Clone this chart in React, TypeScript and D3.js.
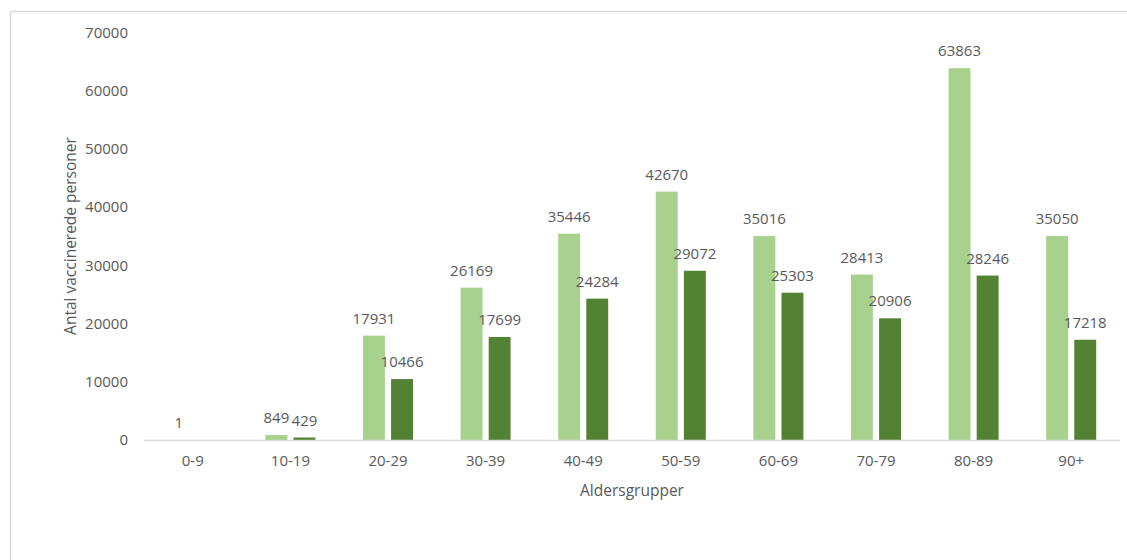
import React, { useEffect, useRef } from 'react';
import * as d3 from 'd3';

const ageGroups = ['0-9', '10-19', '20-29', '30-39', '40-49', '50-59', '60-69', '70-79', '80-89', '90+'];
const firstDose = [1, 849, 17931, 26169, 35446, 42670, 35016, 28413, 63863, 35050];
const secondDose = [0, 429, 10466, 17699, 24284, 29072, 25303, 20906, 28246, 17218];
const yTicks = [0, 10000, 20000, 30000, 40000, 50000, 60000, 70000];

const seriesNames = ['first', 'second'];
const colors: Record<string, string> = { first: '#A9D18E', second: '#548235' };

const App = () => {
  const ref = useRef<SVGSVGElement>(null);

  useEffect(() => {
    const svg = d3.select(ref.current);
    svg.selectAll('*').remove();

    const font = "'Open Sans', sans-serif";
    const textColor = '#595959';

    // outer chart border (only top and left are visible)
    svg
      .append('path')
      .attr('d', 'M10.5,600 L10.5,11.5 L1140,11.5')
      .attr('fill', 'none')
      .attr('stroke', '#D9D9D9')
      .attr('stroke-width', 1.5);

    const left = 144;
    const right = 1120;
    const y0 = 440;

    const x = d3.scaleBand().domain(ageGroups).range([left, right]);
    const x1 = d3.scaleBand().domain(seriesNames).range([-25, 25]).paddingInner(0.22);
    const y = d3.scaleLinear().domain([0, 70000]).range([y0, 32.5]);

    // y tick labels
    svg
      .selectAll('.ytick')
      .data(yTicks)
      .enter()
      .append('text')
      .attr('x', 128)
      .attr('y', d => y(d))
      .attr('dy', '0.35em')
      .attr('text-anchor', 'end')
      .style('font-family', font)
      .style('font-size', '15px')
      .style('fill', textColor)
      .text(d => d);

    const rows = ageGroups.map((g, i) => ({
      group: g,
      values: [
        { key: 'first', value: firstDose[i] },
        { key: 'second', value: secondDose[i] },
      ],
    }));

    const groups = svg
      .selectAll('.grp')
      .data(rows)
      .enter()
      .append('g')
      .attr('transform', d => `translate(${x(d.group)! + x.bandwidth() / 2},0)`);

    groups
      .selectAll('rect')
      .data(d => d.values)
      .enter()
      .append('rect')
      .attr('x', d => x1(d.key)!)
      .attr('y', d => y(d.value))
      .attr('width', x1.bandwidth())
      .attr('height', d => y0 - y(d.value))
      .attr('fill', d => colors[d.key]);

    // value labels (zero values have no label)
    groups
      .selectAll('.lbl')
      .data(d => d.values.filter(v => v.value > 0))
      .enter()
      .append('text')
      .attr('x', d => x1(d.key)! + x1.bandwidth() / 2)
      .attr('y', d => y(d.value) - 12)
      .attr('text-anchor', 'middle')
      .style('font-family', font)
      .style('font-size', '15px')
      .style('fill', textColor)
      .text(d => d.value);

    // x axis line
    svg
      .append('line')
      .attr('x1', left)
      .attr('x2', right)
      .attr('y1', y0 + 0.5)
      .attr('y2', y0 + 0.5)
      .attr('stroke', '#D9D9D9')
      .attr('stroke-width', 1.5);

    // x tick labels
    svg
      .selectAll('.xtick')
      .data(ageGroups)
      .enter()
      .append('text')
      .attr('x', d => x(d)! + x.bandwidth() / 2)
      .attr('y', 461)
      .attr('dy', '0.35em')
      .attr('text-anchor', 'middle')
      .style('font-family', font)
      .style('font-size', '15px')
      .style('fill', textColor)
      .text(d => d);

    // axis titles
    svg
      .append('text')
      .attr('x', 632)
      .attr('y', 496)
      .attr('text-anchor', 'middle')
      .style('font-family', font)
      .style('font-size', '15.5px')
      .style('fill', textColor)
      .text('Aldersgrupper');

    svg
      .append('text')
      .attr('transform', 'translate(76,236) rotate(-90)')
      .attr('text-anchor', 'middle')
      .style('font-family', font)
      .style('font-size', '15.5px')
      .style('fill', textColor)
      .text('Antal vaccinerede personer');
  }, []);

  return (
    <svg
      ref={ref}
      width={1127}
      height={560}
      style={{ position: 'absolute', left: 0, top: 0, display: 'block', background: '#fff' }}
    />
  );
};

export default App;
